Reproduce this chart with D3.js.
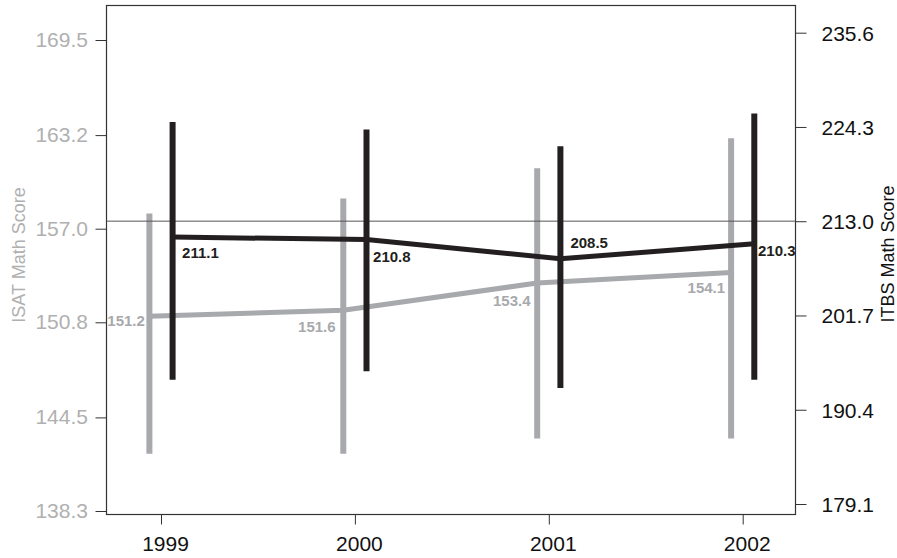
<!DOCTYPE html>
<html>
<head>
<meta charset="utf-8">
<script src="https://cdn.jsdelivr.net/npm/d3@7/dist/d3.min.js"></script>
<style>
  html, body { margin: 0; padding: 0; background: #fff; }
  svg { display: block; font-family: "Liberation Sans", Arial, Helvetica, sans-serif; }
</style>
</head>
<body>
<svg id="chart" width="897" height="558"></svg>
<script>
// Mean scores and interval ends by year
const years = [1999, 2000, 2001, 2002];
const isatMean = [151.2, 151.6, 153.4, 154.1];
const isatLow  = [142.1, 142.1, 143.1, 143.1];
const isatHigh = [158.0, 159.0, 161.0, 163.0];
const itbsMean = [211.1, 210.8, 208.5, 210.3];
const itbsLow  = [194.0, 195.0, 193.0, 194.0];
const itbsHigh = [224.9, 224.0, 222.0, 225.9];
const isatTicks = [138.3, 144.5, 150.8, 157.0, 163.2, 169.5];
const itbsTicks = [179.1, 190.4, 201.7, 213.0, 224.3, 235.6];
const isatReference = 157.5;

const GREY = "#a7a9ac";
const DARK = "#231f20";

const svg = d3.select("#chart");

// Plot frame
const frame = { left: 106.5, top: 5.5, right: 795.5, bottom: 514.5 };

const x = d3.scalePoint().domain(years).range([161, 742.7]);
const yL = d3.scaleLinear().domain([138.3, 169.5]).range([511, 40]);
const yR = d3.scaleLinear().domain([179.1, 235.6]).range([504, 32.7]);
const off = 11.6; // horizontal offset of each series from the year tick

// Left axis (ISAT)
const axL = svg.append("g")
  .attr("transform", `translate(${frame.left},0)`)
  .call(d3.axisLeft(yL).tickValues(isatTicks).tickFormat(d3.format(".1f"))
    .tickSize(11).tickPadding(7.5).tickSizeOuter(0));
axL.select(".domain").remove();
axL.selectAll("line").attr("stroke", "#333");
axL.selectAll("text").attr("fill", "#b0b0b0").attr("font-size", 21)
  .attr("dy", "0.3em").attr("font-family", "Liberation Sans, Arial, sans-serif");

// Right axis (ITBS)
const axR = svg.append("g")
  .attr("transform", `translate(${frame.right},0)`)
  .call(d3.axisRight(yR).tickValues(itbsTicks).tickFormat(d3.format(".1f"))
    .tickSize(11).tickPadding(15).tickSizeOuter(0));
axR.select(".domain").remove();
axR.selectAll("line").attr("stroke", "#333");
axR.selectAll("text").attr("fill", "#111").attr("font-size", 21)
  .attr("dy", "0.35em").attr("font-family", "Liberation Sans, Arial, sans-serif");

// Bottom axis (years)
const axB = svg.append("g")
  .attr("transform", `translate(0,${frame.bottom})`)
  .call(d3.axisBottom(x).tickSize(10).tickPadding(12).tickSizeOuter(0));
axB.select(".domain").remove();
axB.selectAll("line").attr("stroke", "#333");
axB.selectAll("text").attr("fill", "#111").attr("font-size", 21)
  .attr("dx", 4).attr("font-family", "Liberation Sans, Arial, sans-serif");

// Frame box
svg.append("rect")
  .attr("x", frame.left).attr("y", frame.top)
  .attr("width", frame.right - frame.left).attr("height", frame.bottom - frame.top)
  .attr("fill", "none").attr("stroke", "#333").attr("stroke-width", 1.2);

// Axis titles
svg.append("text")
  .attr("transform", `translate(25,255) rotate(-90)`)
  .attr("text-anchor", "middle").attr("font-size", 18).attr("fill", "#b0b0b0")
  .text("ISAT Math Score");
svg.append("text")
  .attr("transform", `translate(894,254) rotate(-90)`)
  .attr("text-anchor", "middle").attr("font-size", 18).attr("fill", "#111")
  .text("ITBS Math Score");

const idx = d3.range(years.length);

// Value label nudges [dx, dy] relative to each mean point
const isatNudge = [[-4.5, 10], [-7.7, 21.7], [-6.7, 23], [-6, 20.6]];
const itbsNudge = [[9.5, 20.5], [6.6, 22.4], [10, -10.3], [3.7, 12.7]];

// ISAT value labels
svg.append("g").selectAll("text").data(idx).join("text")
  .attr("x", i => x(years[i]) - off + isatNudge[i][0])
  .attr("y", i => yL(isatMean[i]) + isatNudge[i][1])
  .attr("text-anchor", "end").attr("font-size", 15).attr("font-weight", "bold")
  .attr("fill", GREY)
  .text(i => isatMean[i].toFixed(1));

// ISAT intervals
svg.append("g").selectAll("line").data(idx).join("line")
  .attr("x1", i => x(years[i]) - off).attr("x2", i => x(years[i]) - off)
  .attr("y1", i => yL(isatLow[i])).attr("y2", i => yL(isatHigh[i]))
  .attr("stroke", GREY).attr("stroke-width", 6);

// ISAT mean line
svg.append("path")
  .datum(idx)
  .attr("d", d3.line().x(i => x(years[i]) - off).y(i => yL(isatMean[i])))
  .attr("fill", "none").attr("stroke", GREY).attr("stroke-width", 5);

// Reference level
svg.append("line")
  .attr("x1", frame.left).attr("x2", frame.right)
  .attr("y1", yL(isatReference)).attr("y2", yL(isatReference))
  .attr("stroke", "#555").attr("stroke-width", 1);

// ITBS intervals
svg.append("g").selectAll("line").data(idx).join("line")
  .attr("x1", i => x(years[i]) + off).attr("x2", i => x(years[i]) + off)
  .attr("y1", i => yR(itbsLow[i])).attr("y2", i => yR(itbsHigh[i]))
  .attr("stroke", DARK).attr("stroke-width", 6);

// ITBS mean line
svg.append("path")
  .datum(idx)
  .attr("d", d3.line().x(i => x(years[i]) + off).y(i => yR(itbsMean[i])))
  .attr("fill", "none").attr("stroke", DARK).attr("stroke-width", 5);

// ITBS value labels
svg.append("g").selectAll("text").data(idx).join("text")
  .attr("x", i => x(years[i]) + off + itbsNudge[i][0])
  .attr("y", i => yR(itbsMean[i]) + itbsNudge[i][1])
  .attr("font-size", 15).attr("font-weight", "bold")
  .attr("fill", DARK)
  .text(i => itbsMean[i].toFixed(1));
</script>
</body>
</html>
